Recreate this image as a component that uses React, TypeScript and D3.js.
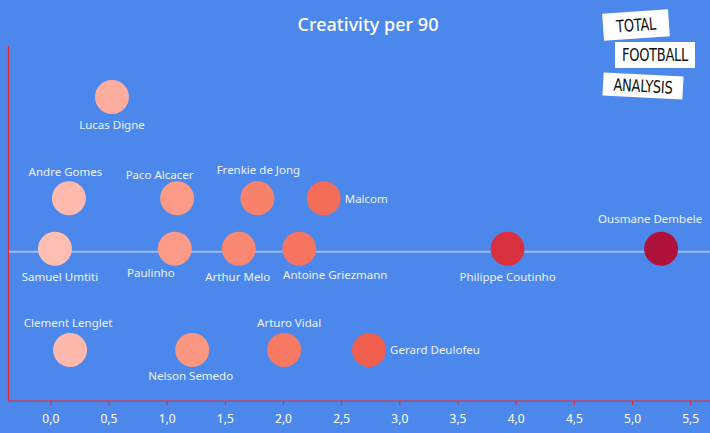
import React, { useEffect, useRef } from 'react';
import * as d3 from 'd3';

// players, creativity per 90 and the (hidden) lane they sit in
const players = [
  'Lucas Digne', 'Andre Gomes', 'Paco Alcacer', 'Frenkie de Jong', 'Malcom',
  'Samuel Umtiti', 'Paulinho', 'Arthur Melo', 'Antoine Griezmann', 'Philippe Coutinho',
  'Ousmane Dembele', 'Clement Lenglet', 'Nelson Semedo', 'Arturo Vidal', 'Gerard Deulofeu',
];
const creativity = [0.53, 0.16, 1.09, 1.78, 2.35, 0.04, 1.07, 1.62, 2.14, 3.93, 5.25, 0.17, 1.22, 2.01, 2.74];
const lanes = [4, 3, 3, 3, 3, 2.5, 2.5, 2.5, 2.5, 2.5, 2.5, 1.5, 1.5, 1.5, 1.5];
const xTicks = [0, 0.5, 1, 1.5, 2, 2.5, 3, 3.5, 4, 4.5, 5, 5.5];
const referenceLane = 2.47;

// label placement, tableau style (offset from circle centre)
const labelOffsets: Record<string, [number, number, string]> = {
  'Lucas Digne': [0, 32, 'middle'],
  'Andre Gomes': [-3.5, -22, 'middle'],
  'Paco Alcacer': [-17.5, -19, 'middle'],
  'Frenkie de Jong': [1, -24, 'middle'],
  'Malcom': [21, 5, 'start'],
  'Samuel Umtiti': [5, 32, 'middle'],
  'Paulinho': [-24, 28, 'middle'],
  'Arthur Melo': [-1, 32, 'middle'],
  'Antoine Griezmann': [36, 30, 'middle'],
  'Philippe Coutinho': [0, 32, 'middle'],
  'Ousmane Dembele': [-11, -26, 'middle'],
  'Clement Lenglet': [-2, -23, 'middle'],
  'Nelson Semedo': [-1.5, 30, 'middle'],
  'Arturo Vidal': [5, -23, 'middle'],
  'Gerard Deulofeu': [21, 4, 'start'],
};

const redPalette = [
  '#ffbeb2', '#feb4a6', '#fdab9b', '#fca290', '#fb9984', '#fa8f79', '#f9856e', '#f77b66', '#f5715d', '#f36754',
  '#f05c4d', '#ec5049', '#e74545', '#e13b42', '#da323f', '#d3293d', '#ca223c', '#c11a3b', '#b8163a', '#ae123a',
];

const W = 710;
const H = 433;
const BG = '#4c88ec';
const FONT = '"Noto Sans", "Open Sans", sans-serif';

export default function App() {
  const svgRef = useRef<SVGSVGElement>(null);

  useEffect(() => {
    document.body.style.margin = '0';
    if (!svgRef.current) return;
    const svg = d3.select(svgRef.current);
    svg.selectAll('*').remove();

    const x = d3.scaleLinear().domain([0, 5.5]).range([50.3, 690.2]);
    const y = d3.scaleLinear().domain([1.5, 4]).range([350, 97]);
    const color = d3.scaleSequential(d3.interpolateRgbBasis(redPalette))
      .domain(d3.extent(creativity) as [number, number]);
    const comma = d3.formatLocale({ decimal: ',', thousands: '.', grouping: [3], currency: ['', ''] }).format('.1f');

    svg.append('rect').attr('width', W).attr('height', H).attr('fill', BG);

    svg.append('text')
      .attr('x', 368).attr('y', 31)
      .attr('text-anchor', 'middle')
      .attr('fill', '#ffffff')
      .attr('font-family', FONT)
      .attr('font-weight', 500)
      .attr('font-size', '18px')
      .text('Creativity per 90');

    // logo boxes
    const logo = [
      { t: 'TOTAL', cx: 636, cy: 25, w: 66, h: 27, rot: -4 },
      { t: 'FOOTBALL', cx: 655, cy: 55, w: 80, h: 26, rot: 0 },
      { t: 'ANALYSIS', cx: 643, cy: 86, w: 80, h: 23, rot: 3 },
    ];
    const lg = svg.append('g');
    logo.forEach((b) => {
      const g = lg.append('g').attr('transform', `translate(${b.cx},${b.cy}) rotate(${b.rot})`);
      g.append('rect').attr('x', -b.w / 2).attr('y', -b.h / 2).attr('width', b.w).attr('height', b.h).attr('fill', '#ffffff');
      g.append('text')
        .attr('x', 0).attr('y', 6)
        .attr('text-anchor', 'middle')
        .attr('fill', '#111')
        .attr('font-family', '"DejaVu Sans Condensed", "Liberation Sans Narrow", sans-serif')
        .attr('font-size', '17px')
        .attr('letter-spacing', '-0.3px')
        .attr('transform', 'scale(0.85,1)')
        .text(b.t);
    });

    // reference line
    svg.append('line')
      .attr('x1', 8).attr('x2', W)
      .attr('y1', y(referenceLane)).attr('y2', y(referenceLane))
      .attr('stroke', '#ffffff').attr('stroke-opacity', 0.45).attr('stroke-width', 2);

    // axes lines
    svg.append('line').attr('x1', 8.5).attr('x2', 8.5).attr('y1', 46).attr('y2', 401)
      .attr('stroke', '#e8262b').attr('stroke-width', 1.2);

    const axis = svg.append('g').attr('transform', 'translate(0,401)')
      .call(d3.axisBottom(x).tickValues(xTicks).tickFormat((d) => comma(d as number)).tickSizeOuter(0).tickSize(4).tickPadding(9));
    axis.select('.domain').remove();
    axis.append('line').attr('x1', 8).attr('x2', W).attr('stroke', '#e8262b').attr('stroke-width', 1.2);
    axis.selectAll('.tick line').attr('stroke', '#e8262b');
    axis.selectAll('.tick text')
      .attr('fill', '#ffffff')
      .attr('font-family', FONT)
      .attr('font-size', '12px');

    const idx = d3.range(players.length);

    svg.append('g').selectAll('circle')
      .data(idx)
      .enter()
      .append('circle')
      .attr('cx', (i) => x(creativity[i]))
      .attr('cy', (i) => y(lanes[i]))
      .attr('r', 17)
      .attr('fill', (i) => color(creativity[i]));

    svg.append('g').selectAll('text')
      .data(idx)
      .enter()
      .append('text')
      .attr('x', (i) => x(creativity[i]) + labelOffsets[players[i]][0])
      .attr('y', (i) => y(lanes[i]) + labelOffsets[players[i]][1])
      .attr('text-anchor', (i) => labelOffsets[players[i]][2])
      .attr('fill', '#eef2ff')
      .attr('font-family', FONT)
      .attr('font-size', '11.5px')
      .text((i) => players[i]);
  }, []);

  return <svg ref={svgRef} width={W} height={H} style={{ display: 'block' }} />;
}
